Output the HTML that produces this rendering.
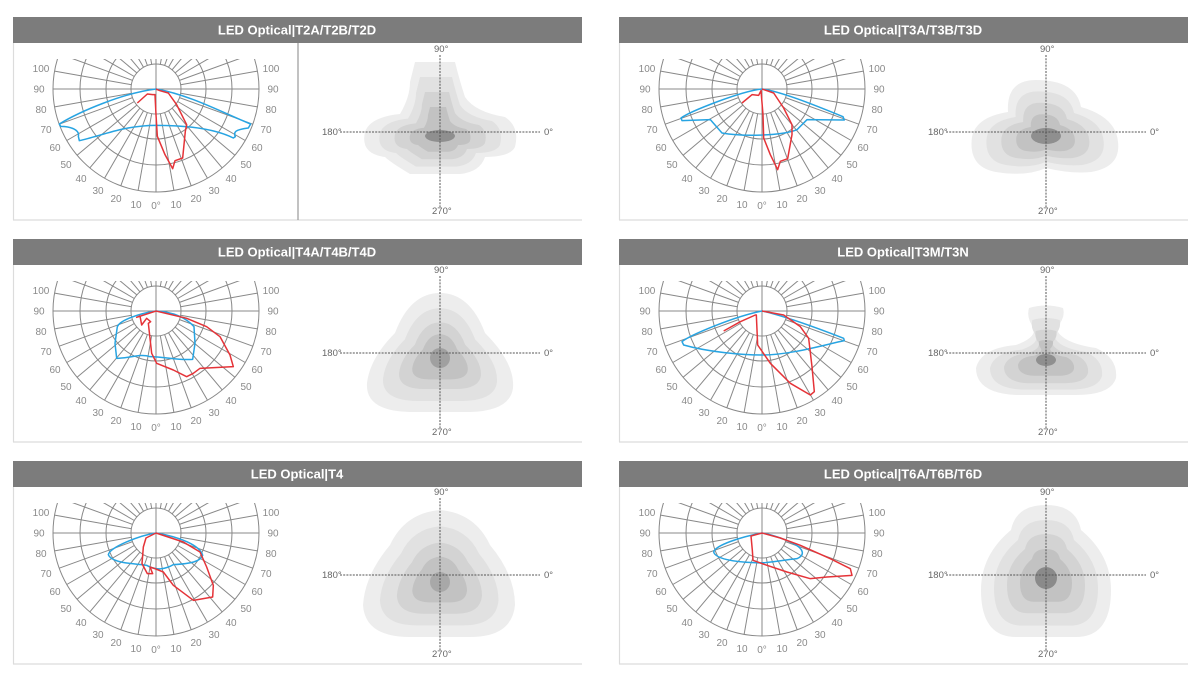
<!DOCTYPE html>
<html><head><meta charset="utf-8"><style>
html,body{margin:0;padding:0;background:#fff;}
svg{display:block;font-family:"Liberation Sans",Arial,sans-serif;}
.lb text{font-size:10px;fill:#8a8a8a;text-anchor:middle;}
.hd{font-size:13px;font-weight:bold;fill:#fff;text-anchor:middle;}
.cl{font-size:9.5px;fill:#666;}
.bl{fill:none;stroke:#27a4e2;stroke-width:4.5;stroke-linejoin:round;}
.rd{fill:none;stroke:#e53338;stroke-width:4.5;stroke-linejoin:round;}
.ax{stroke:#555;stroke-width:1;stroke-dasharray:2 1.2;}
</style></head><body>
<svg width="1200" height="689" viewBox="0 0 1200 689" xmlns="http://www.w3.org/2000/svg" xmlns:xlink="http://www.w3.org/1999/xlink">
<defs>
<clipPath id="cp"><rect x="-110" y="-30" width="220" height="140"/></clipPath>
<g id="grid" clip-path="url(#cp)" fill="none" stroke="#888" stroke-width="1">
<circle r="25" fill="#fff"/><circle r="50"/><circle r="76"/><circle r="103"/>
<line x1="0" y1="-103" x2="0" y2="103"/><line x1="-103" y1="0" x2="103" y2="0"/>
<g id="half">
<line x1="4.3" y1="24.6" x2="17.9" y2="101.4"/><line x1="8.6" y1="23.5" x2="35.2" y2="96.8"/>
<line x1="12.5" y1="21.7" x2="51.5" y2="89.2"/><line x1="16.1" y1="19.2" x2="66.2" y2="78.9"/>
<line x1="19.2" y1="16.1" x2="78.9" y2="66.2"/><line x1="21.7" y1="12.5" x2="89.2" y2="51.5"/>
<line x1="23.5" y1="8.6" x2="96.8" y2="35.2"/><line x1="24.6" y1="4.3" x2="101.4" y2="17.9"/>
<line x1="24.6" y1="-4.3" x2="101.4" y2="-17.9"/><line x1="23.5" y1="-8.6" x2="96.8" y2="-35.2"/>
<line x1="21.7" y1="-12.5" x2="89.2" y2="-51.5"/><line x1="19.2" y1="-16.1" x2="78.9" y2="-66.2"/>
<line x1="16.1" y1="-19.2" x2="66.2" y2="-78.9"/><line x1="12.5" y1="-21.7" x2="51.5" y2="-89.2"/>
<line x1="8.6" y1="-23.5" x2="35.2" y2="-96.8"/><line x1="4.3" y1="-24.6" x2="17.9" y2="-101.4"/>
</g>
<use href="#half" xlink:href="#half" transform="scale(-1,1)"/>
</g>
<path id="c1" d="M-25,-70 L15,-70 Q20,-50 25,-35 Q35,-20 65,-15 Q80,-5 75,15 Q70,25 45,25 Q40,40 20,42 L-30,42 Q-50,30 -55,25 Q-80,22 -75,0 Q-70,-15 -40,-18 Q-30,-35 -30,-50 Z"/>
<path id="c2" d="M-10,-52 Q30,-52 35,-25 Q70,-15 72,10 Q75,35 45,40 Q25,42 0,36 Q-20,45 -50,40 Q-78,35 -74,5 Q-70,-15 -38,-20 Q-40,-52 -10,-52 Z"/>
<path id="c3" d="M0,-60 Q30,-60 45,-20 Q75,10 73,35 Q70,58 30,59 L-30,59 Q-75,58 -73,30 Q-70,5 -45,-20 Q-30,-60 0,-60 Z"/>
<path id="c4" d="M-17,-45 Q0,-50 17,-45 Q20,-35 10,-25 Q15,-10 50,-5 Q72,5 70,25 Q65,42 30,42 L-30,42 Q-70,40 -70,15 Q-65,-5 -30,-8 Q-10,-15 -12,-25 Q-20,-35 -17,-45 Z"/>
<path id="c5" d="M0,-65 Q35,-62 50,-30 Q75,0 75,30 Q72,62 30,62 L-30,62 Q-75,62 -77,30 Q-75,0 -50,-30 Q-35,-62 0,-65 Z"/>
<path id="c6" d="M0,-70 Q30,-70 35,-45 Q65,-20 65,15 Q65,62 30,62 L-30,62 Q-65,62 -65,15 Q-65,-20 -35,-45 Q-30,-70 0,-70 Z"/>
</defs>

<g fill="#7c7c7c">
<rect x="13" y="17" width="569" height="26"/><rect x="619" y="17" width="569" height="26"/>
<rect x="13" y="239" width="569" height="26"/><rect x="619" y="239" width="569" height="26"/>
<rect x="13" y="461" width="569" height="26"/><rect x="619" y="461" width="569" height="26"/>
</g>
<g stroke="#dcdcdc" stroke-width="1.2">
<line x1="13.5" y1="43" x2="13.5" y2="220"/><line x1="13" y1="220" x2="582" y2="220"/>
<line x1="619.5" y1="43" x2="619.5" y2="220"/><line x1="619" y1="220" x2="1188" y2="220"/>
<line x1="13.5" y1="265" x2="13.5" y2="442"/><line x1="13" y1="442" x2="582" y2="442"/>
<line x1="619.5" y1="265" x2="619.5" y2="442"/><line x1="619" y1="442" x2="1188" y2="442"/>
<line x1="13.5" y1="487" x2="13.5" y2="664"/><line x1="13" y1="664" x2="582" y2="664"/>
<line x1="619.5" y1="487" x2="619.5" y2="664"/><line x1="619" y1="664" x2="1188" y2="664"/>
</g>
<line x1="298" y1="43" x2="298" y2="220" stroke="#999" stroke-width="1.2"/>
<text class="hd" x="297" y="34.5">LED Optical|T2A/T2B/T2D</text>
<text class="hd" x="903" y="34.5">LED Optical|T3A/T3B/T3D</text>
<text class="hd" x="297" y="256.5">LED Optical|T4A/T4B/T4D</text>
<text class="hd" x="903" y="256.5">LED Optical|T3M/T3N</text>
<text class="hd" x="297" y="478.5">LED Optical|T4</text>
<text class="hd" x="903" y="478.5">LED Optical|T6A/T6B/T6D</text>

<use href="#grid" xlink:href="#grid" transform="translate(156,89)"/>
<use href="#grid" xlink:href="#grid" transform="translate(762,89)"/>
<use href="#grid" xlink:href="#grid" transform="translate(156,311)"/>
<use href="#grid" xlink:href="#grid" transform="translate(762,311)"/>
<use href="#grid" xlink:href="#grid" transform="translate(156,533)"/>
<use href="#grid" xlink:href="#grid" transform="translate(762,533)"/>

<g class="lb" transform="translate(156,89)"><text x="0" y="120">0°</text><text x="-20" y="119">10</text><text x="-40" y="113">20</text><text x="-58" y="105">30</text><text x="-75" y="93">40</text><text x="-90" y="79">50</text><text x="-101" y="62">60</text><text x="-110" y="44">70</text><text x="-115" y="24">80</text><text x="-117" y="3.5">90</text><text x="-115" y="-17">100</text><text x="20" y="119">10</text><text x="40" y="113">20</text><text x="58" y="105">30</text><text x="75" y="93">40</text><text x="90" y="79">50</text><text x="101" y="62">60</text><text x="110" y="44">70</text><text x="115" y="24">80</text><text x="117" y="3.5">90</text><text x="115" y="-17">100</text></g>
<g class="lb" transform="translate(762,89)"><text x="0" y="120">0°</text><text x="-20" y="119">10</text><text x="-40" y="113">20</text><text x="-58" y="105">30</text><text x="-75" y="93">40</text><text x="-90" y="79">50</text><text x="-101" y="62">60</text><text x="-110" y="44">70</text><text x="-115" y="24">80</text><text x="-117" y="3.5">90</text><text x="-115" y="-17">100</text><text x="20" y="119">10</text><text x="40" y="113">20</text><text x="58" y="105">30</text><text x="75" y="93">40</text><text x="90" y="79">50</text><text x="101" y="62">60</text><text x="110" y="44">70</text><text x="115" y="24">80</text><text x="117" y="3.5">90</text><text x="115" y="-17">100</text></g>
<g class="lb" transform="translate(156,311)"><text x="0" y="120">0°</text><text x="-20" y="119">10</text><text x="-40" y="113">20</text><text x="-58" y="105">30</text><text x="-75" y="93">40</text><text x="-90" y="79">50</text><text x="-101" y="62">60</text><text x="-110" y="44">70</text><text x="-115" y="24">80</text><text x="-117" y="3.5">90</text><text x="-115" y="-17">100</text><text x="20" y="119">10</text><text x="40" y="113">20</text><text x="58" y="105">30</text><text x="75" y="93">40</text><text x="90" y="79">50</text><text x="101" y="62">60</text><text x="110" y="44">70</text><text x="115" y="24">80</text><text x="117" y="3.5">90</text><text x="115" y="-17">100</text></g>
<g class="lb" transform="translate(762,311)"><text x="0" y="120">0°</text><text x="-20" y="119">10</text><text x="-40" y="113">20</text><text x="-58" y="105">30</text><text x="-75" y="93">40</text><text x="-90" y="79">50</text><text x="-101" y="62">60</text><text x="-110" y="44">70</text><text x="-115" y="24">80</text><text x="-117" y="3.5">90</text><text x="-115" y="-17">100</text><text x="20" y="119">10</text><text x="40" y="113">20</text><text x="58" y="105">30</text><text x="75" y="93">40</text><text x="90" y="79">50</text><text x="101" y="62">60</text><text x="110" y="44">70</text><text x="115" y="24">80</text><text x="117" y="3.5">90</text><text x="115" y="-17">100</text></g>
<g class="lb" transform="translate(156,533)"><text x="0" y="120">0°</text><text x="-20" y="119">10</text><text x="-40" y="113">20</text><text x="-58" y="105">30</text><text x="-75" y="93">40</text><text x="-90" y="79">50</text><text x="-101" y="62">60</text><text x="-110" y="44">70</text><text x="-115" y="24">80</text><text x="-117" y="3.5">90</text><text x="-115" y="-17">100</text><text x="20" y="119">10</text><text x="40" y="113">20</text><text x="58" y="105">30</text><text x="75" y="93">40</text><text x="90" y="79">50</text><text x="101" y="62">60</text><text x="110" y="44">70</text><text x="115" y="24">80</text><text x="117" y="3.5">90</text><text x="115" y="-17">100</text></g>
<g class="lb" transform="translate(762,533)"><text x="0" y="120">0°</text><text x="-20" y="119">10</text><text x="-40" y="113">20</text><text x="-58" y="105">30</text><text x="-75" y="93">40</text><text x="-90" y="79">50</text><text x="-101" y="62">60</text><text x="-110" y="44">70</text><text x="-115" y="24">80</text><text x="-117" y="3.5">90</text><text x="-115" y="-17">100</text><text x="20" y="119">10</text><text x="40" y="113">20</text><text x="58" y="105">30</text><text x="75" y="93">40</text><text x="90" y="79">50</text><text x="101" y="62">60</text><text x="110" y="44">70</text><text x="115" y="24">80</text><text x="117" y="3.5">90</text><text x="115" y="-17">100</text></g>

<g transform="translate(156,89) scale(0.3333) translate(-348,-103)">
<path class="bl" d="M348,103 C250,115 120,170 58,208 L62,215 C90,215 120,225 115,245 L118,258 C180,245 250,212 348,212 C450,212 530,225 580,250 L586,246 C580,232 585,225 625,220 L632,208 C560,180 450,120 348,103 Z"/>
<path class="rd" d="M292,145 L322,118 L338,120 L345,120 L348,180 L352,245 L375,300 L398,342 L405,318 L428,310 L436,230 L440,210 L410,150 L385,115 L360,108 L348,103"/>
</g>
<g transform="translate(762,89) scale(0.3333) translate(-365,-103)">
<path class="bl" d="M365,103 C300,110 150,170 122,190 L125,198 L210,195 L245,235 C300,245 420,245 470,225 L500,195 L612,196 L608,186 C520,150 420,110 365,103 Z"/>
<path class="rd" d="M305,145 L335,120 L355,122 L362,108 L368,180 L370,250 L390,300 L412,345 L420,320 L442,312 L455,240 L455,210 L430,160 L400,115 L365,103"/>
</g>
<g transform="translate(156,311) scale(0.3333) translate(-348,-103)">
<path class="bl" d="M348,103 C300,110 240,130 232,150 L225,200 L230,245 C270,245 300,230 330,240 C370,240 420,252 458,248 L465,200 L462,150 C440,125 400,105 348,103 Z"/>
<path class="rd" d="M348,103 L290,122 L300,118 L305,145 L320,125 L332,135 L325,140 L335,230 L350,260 L400,280 L440,300 L460,290 L480,275 L580,270 L570,235 L540,180 L500,150 L440,125 L348,103"/>
</g>
<g transform="translate(762,311) scale(0.3333) translate(-365,-103)">
<path class="bl" d="M365,103 C280,120 150,175 125,195 L130,205 C200,225 300,235 365,235 C450,235 550,205 612,192 L610,185 C520,150 420,115 365,103 Z"/>
<path class="rd" d="M250,163 L300,135 L345,115 L348,115 L352,205 L390,260 L450,320 L510,355 L522,345 L515,270 L505,185 L480,150 L430,115 L365,103"/>
</g>
<g transform="translate(156,533) scale(0.3333) translate(-348,-103)">
<path class="bl" d="M348,103 C300,110 210,145 205,168 C215,195 290,195 320,200 C350,218 380,210 400,198 C450,195 480,190 488,170 C480,140 420,115 348,103 Z"/>
<path class="rd" d="M348,103 L318,118 L310,145 L306,195 L322,225 L338,225 L330,205 L345,210 L370,220 L400,260 L460,305 L518,295 L520,260 L500,205 L480,160 L430,130 L348,103"/>
</g>
<g transform="translate(762,533) scale(0.3333) translate(-365,-103)">
<path class="bl" d="M365,103 C300,115 225,140 220,160 C225,180 280,190 340,192 C380,195 420,185 470,180 C495,170 490,150 460,135 C420,115 380,105 365,103 Z"/>
<path class="rd" d="M365,103 L332,112 L336,155 L338,185 L380,200 L440,220 L510,240 L560,235 L635,230 L630,210 L570,180 L480,140 L420,118 L365,103"/>
</g>

<g transform="translate(440,132)">
<use href="#c1" xlink:href="#c1" fill="#ededed"/>
<use href="#c1" xlink:href="#c1" fill="#e1e1e1" transform="translate(0,1) scale(0.8)"/>
<use href="#c1" xlink:href="#c1" fill="#d3d3d3" transform="translate(0,2) scale(0.6)"/>
<use href="#c1" xlink:href="#c1" fill="#c2c2c2" transform="translate(0,3) scale(0.4)"/>
<ellipse cx="0" cy="4" rx="15" ry="6" fill="#8f8f8f"/>
<line class="ax" x1="-100" y1="0" x2="100" y2="0"/><line class="ax" x1="0" y1="-77" x2="0" y2="75"/>
<text class="cl" x="-118" y="3">180°</text><text class="cl" x="104" y="3">0°</text>
<text class="cl" x="-6" y="-80">90°</text><text class="cl" x="-8" y="82">270°</text>
</g>
<g transform="translate(1046,132)">
<use href="#c2" xlink:href="#c2" fill="#ededed"/>
<use href="#c2" xlink:href="#c2" fill="#e1e1e1" transform="translate(0,1) scale(0.8)"/>
<use href="#c2" xlink:href="#c2" fill="#d3d3d3" transform="translate(0,2) scale(0.6)"/>
<use href="#c2" xlink:href="#c2" fill="#c2c2c2" transform="translate(0,3) scale(0.4)"/>
<ellipse cx="0" cy="4" rx="15" ry="8" fill="#8f8f8f"/>
<line class="ax" x1="-100" y1="0" x2="100" y2="0"/><line class="ax" x1="0" y1="-77" x2="0" y2="75"/>
<text class="cl" x="-118" y="3">180°</text><text class="cl" x="104" y="3">0°</text>
<text class="cl" x="-6" y="-80">90°</text><text class="cl" x="-8" y="82">270°</text>
</g>
<g transform="translate(440,353)">
<use href="#c3" xlink:href="#c3" fill="#ededed"/>
<use href="#c3" xlink:href="#c3" fill="#e1e1e1" transform="translate(0,2) scale(0.78)"/>
<use href="#c3" xlink:href="#c3" fill="#d3d3d3" transform="translate(0,3) scale(0.56)"/>
<use href="#c3" xlink:href="#c3" fill="#c2c2c2" transform="translate(0,4) scale(0.38)"/>
<circle cx="0" cy="5" r="10" fill="#a0a0a0"/>
<line class="ax" x1="-100" y1="0" x2="100" y2="0"/><line class="ax" x1="0" y1="-77" x2="0" y2="75"/>
<text class="cl" x="-118" y="3">180°</text><text class="cl" x="104" y="3">0°</text>
<text class="cl" x="-6" y="-80">90°</text><text class="cl" x="-8" y="82">270°</text>
</g>
<g transform="translate(1046,353)">
<use href="#c4" xlink:href="#c4" fill="#ededed"/>
<use href="#c4" xlink:href="#c4" fill="#e1e1e1" transform="translate(0,3) scale(0.8)"/>
<use href="#c4" xlink:href="#c4" fill="#d3d3d3" transform="translate(0,5) scale(0.6)"/>
<use href="#c4" xlink:href="#c4" fill="#c2c2c2" transform="translate(0,6) scale(0.4)"/>
<ellipse cx="0" cy="7" rx="10" ry="6" fill="#8f8f8f"/>
<line class="ax" x1="-100" y1="0" x2="100" y2="0"/><line class="ax" x1="0" y1="-77" x2="0" y2="75"/>
<text class="cl" x="-118" y="3">180°</text><text class="cl" x="104" y="3">0°</text>
<text class="cl" x="-6" y="-80">90°</text><text class="cl" x="-8" y="82">270°</text>
</g>
<g transform="translate(440,575)">
<use href="#c5" xlink:href="#c5" fill="#ededed"/>
<use href="#c5" xlink:href="#c5" fill="#e1e1e1" transform="translate(0,2) scale(0.78)"/>
<use href="#c5" xlink:href="#c5" fill="#d3d3d3" transform="translate(0,4) scale(0.56)"/>
<use href="#c5" xlink:href="#c5" fill="#c2c2c2" transform="translate(0,5) scale(0.36)"/>
<circle cx="0" cy="7" r="10" fill="#a8a8a8"/>
<line class="ax" x1="-100" y1="0" x2="100" y2="0"/><line class="ax" x1="0" y1="-77" x2="0" y2="75"/>
<text class="cl" x="-118" y="3">180°</text><text class="cl" x="104" y="3">0°</text>
<text class="cl" x="-6" y="-80">90°</text><text class="cl" x="-8" y="82">270°</text>
</g>
<g transform="translate(1046,575)">
<use href="#c6" xlink:href="#c6" fill="#ededed"/>
<use href="#c6" xlink:href="#c6" fill="#e1e1e1" transform="translate(0,1) scale(0.8)"/>
<use href="#c6" xlink:href="#c6" fill="#d3d3d3" transform="translate(0,1) scale(0.6)"/>
<use href="#c6" xlink:href="#c6" fill="#c2c2c2" transform="translate(0,2) scale(0.4)"/>
<circle cx="0" cy="3" r="11" fill="#8a8a8a"/>
<line class="ax" x1="-100" y1="0" x2="100" y2="0"/><line class="ax" x1="0" y1="-77" x2="0" y2="75"/>
<text class="cl" x="-118" y="3">180°</text><text class="cl" x="104" y="3">0°</text>
<text class="cl" x="-6" y="-80">90°</text><text class="cl" x="-8" y="82">270°</text>
</g>
</svg>
</body></html>
